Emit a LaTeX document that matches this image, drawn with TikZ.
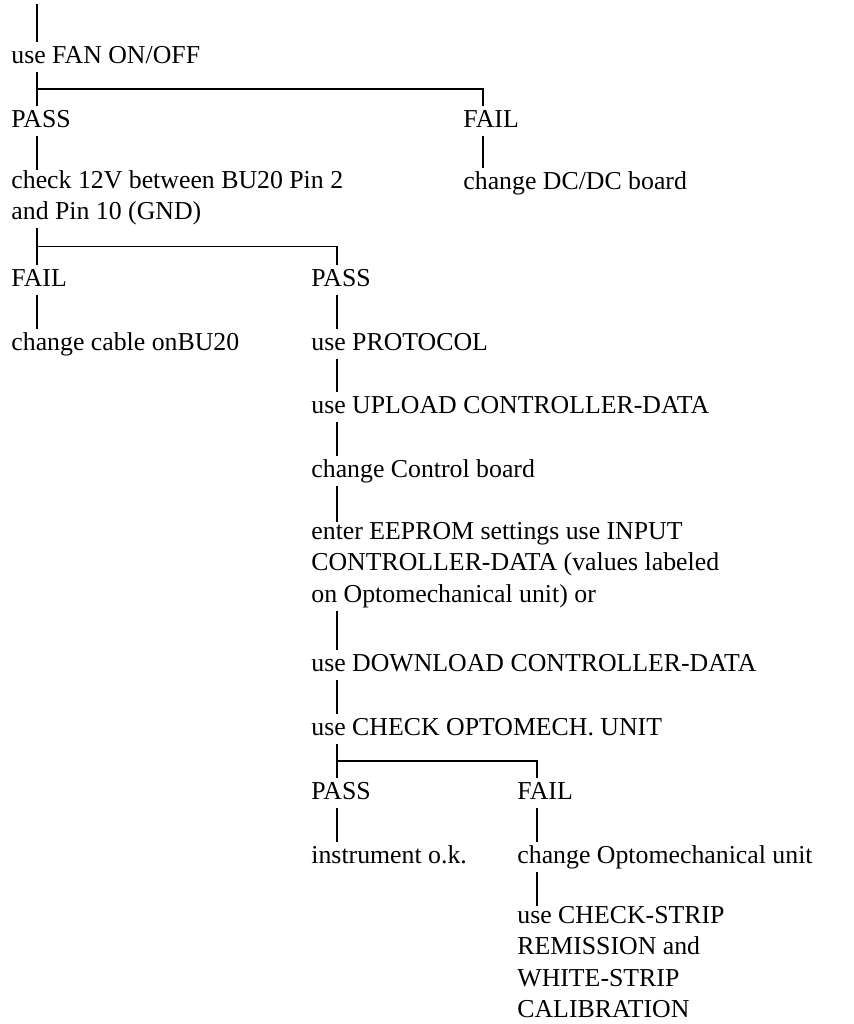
\documentclass[tikz,border=0pt]{standalone}
\usepackage{fontspec}
\setmainfont{Liberation Serif}
\usetikzlibrary{calc}

\pgfdeclarelayer{background}
\pgfsetlayers{background, main}

\tikzset{
  stepnode/.style={anchor=north west, inner sep=0pt, align=left,
    font=\fontsize{12.9}{15.75}\selectfont,
    execute at begin node=\rule[-4pt]{0pt}{14.5pt},
    execute at end node=\rule[-4pt]{0pt}{14.5pt}},
  link/.style={line width=0.65pt}
}

\begin{document}
\begin{tikzpicture}[x=0.5pt, y=-0.5pt]
  \useasboundingbox (0,0) rectangle (854,1024);
  % columns of the vertical lines
  \coordinate (L1) at (37,0);
  \coordinate (L2) at (337,0);
  \coordinate (L3) at (483,0);
  \coordinate (L4) at (537,0);
  \coordinate (top) at (37,4);
  \node[stepnode] (S1) at (11,42) {use FAN ON/OFF};
  \node[stepnode] (P1) at (11,106) {PASS};
  \node[stepnode] (F1) at (463,106) {FAIL};
  \node[stepnode] (S2) at (11,170) {check 12V between BU20 Pin 2\\and Pin 10 (GND)};
  \node[stepnode] (S3) at (463,168) {change DC/DC board};
  \node[stepnode] (F2) at (11,265) {FAIL};
  \node[stepnode] (P2) at (311,265) {PASS};
  \node[stepnode] (S4) at (11,329) {change cable onBU20};
  \node[stepnode] (S5) at (311,329) {use PROTOCOL};
  \node[stepnode] (S6) at (311,392) {use UPLOAD CONTROLLER-DATA};
  \node[stepnode] (S7) at (311,456) {change Control board};
  \node[stepnode] (S8) at (311,522) {enter EEPROM settings use INPUT\\CONTROLLER-DATA (values labeled\\on Optomechanical unit) or};
  \node[stepnode] (S9) at (311,650) {use DOWNLOAD CONTROLLER-DATA};
  \node[stepnode] (S10) at (311,714) {use CHECK OPTOMECH. UNIT};
  \node[stepnode] (P3) at (311,778) {PASS};
  \node[stepnode] (F3) at (517,778) {FAIL};
  \node[stepnode] (S11) at (311,842) {instrument o.k.};
  \node[stepnode] (S12) at (517,842) {change Optomechanical unit};
  \node[stepnode] (S13) at (517,906) {use CHECK-STRIP\\REMISSION and\\WHITE-STRIP\\CALIBRATION};
  \begin{pgfonlayer}{background}
    \draw[link] (top) -- (S1.north -| L1) (S1.south -| L1) -- (P1.north -| L1)
      ($(S1.south -| L1)!.5!(P1.north -| L1)$) -| (F1.north -| L3)
      (P1.south -| L1) -- (S2.north -| L1) (F1.south -| L3) -- (S3.north -| L3)
      (S2.south -| L1) -- (F2.north -| L1)
      ($(S2.south -| L1)!.5!(F2.north -| L1)$) -| (P2.north -| L2)
      (F2.south -| L1) -- (S4.north -| L1) (P2.south -| L2) -- (S5.north -| L2)
      (S5.south -| L2) -- (S6.north -| L2) (S6.south -| L2) -- (S7.north -| L2)
      (S7.south -| L2) -- (S8.north -| L2) (S8.south -| L2) -- (S9.north -| L2)
      (S9.south -| L2) -- (S10.north -| L2) (S10.south -| L2) -- (P3.north -| L2)
      ($(S10.south -| L2)!.5!(P3.north -| L2)$) -| (F3.north -| L4)
      (P3.south -| L2) -- (S11.north -| L2) (F3.south -| L4) -- (S12.north -| L4)
      (S12.south -| L4) -- (S13.north -| L4);
  \end{pgfonlayer}
\end{tikzpicture}
\end{document}
